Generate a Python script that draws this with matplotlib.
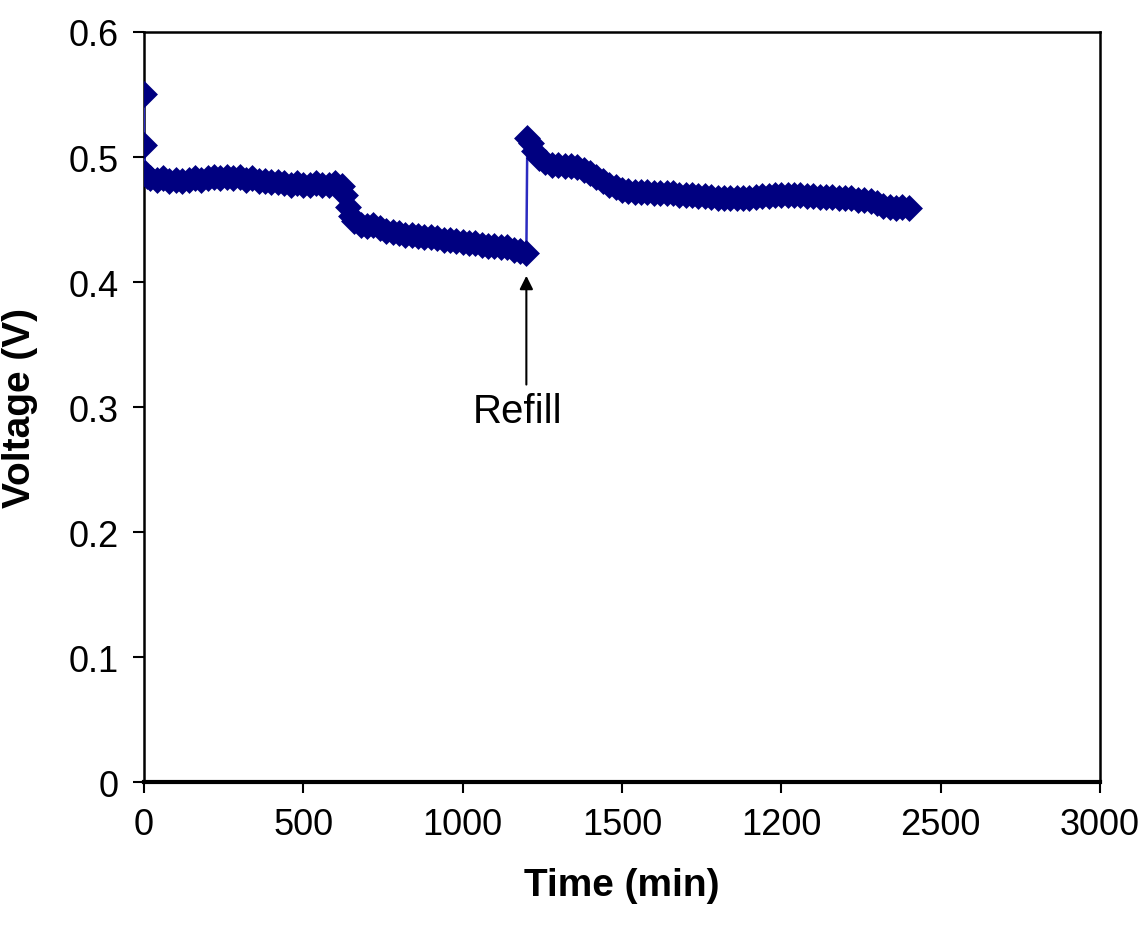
import matplotlib
matplotlib.use("Agg")
from matplotlib import pyplot as plt

# (min, V)
time_min = [0, 0, 3, 10, 20, 40, 60, 80, 100, 120, 140, 160, 180, 200, 220, 240, 260, 280, 300,
	320, 340, 360, 380, 400, 420, 440, 460, 480, 500, 520, 540, 560, 580, 600, 620, 630, 640, 650,
	660, 680, 700, 720, 740, 760, 780, 800, 820, 840, 860, 880, 900, 920, 940, 960, 980, 1000,
	1020, 1040, 1060, 1080, 1100, 1120, 1140, 1160, 1180, 1200,
	1203, 1215, 1225, 1240, 1260, 1280, 1300, 1320, 1340, 1360, 1380, 1400, 1420, 1440, 1460,
	1480, 1500, 1520, 1540, 1560, 1580, 1600, 1620, 1640, 1660, 1680, 1700, 1720, 1740, 1760,
	1780, 1800, 1820, 1840, 1860, 1880, 1900, 1920, 1940, 1960, 1980, 2000, 2020, 2040, 2060,
	2080, 2100, 2120, 2140, 2160, 2180, 2200, 2220, 2240, 2260, 2280, 2300, 2320, 2340, 2360,
	2380, 2400]
voltage = [0.550, 0.510, 0.487, 0.485, 0.483, 0.482, 0.483, 0.481, 0.482, 0.481, 0.482, 0.483,
	0.482, 0.483, 0.484, 0.483, 0.484, 0.483, 0.484, 0.482, 0.483, 0.481, 0.481, 0.480, 0.480,
	0.479, 0.478, 0.479, 0.478, 0.478, 0.479, 0.478, 0.478, 0.479, 0.477, 0.470, 0.460, 0.453,
	0.449, 0.446, 0.445, 0.446, 0.443, 0.441, 0.440, 0.439, 0.438, 0.438, 0.437, 0.436, 0.436,
	0.435, 0.434, 0.434, 0.433, 0.432, 0.431, 0.431, 0.430, 0.429, 0.429, 0.428, 0.428, 0.426,
	0.425, 0.423,
	0.515, 0.511, 0.505, 0.499, 0.496, 0.494, 0.494, 0.493, 0.493, 0.492, 0.490, 0.487, 0.484,
	0.481, 0.478, 0.476, 0.474, 0.473, 0.472, 0.472, 0.472, 0.471, 0.471, 0.471, 0.471, 0.470,
	0.470, 0.470, 0.469, 0.469, 0.468, 0.467, 0.467, 0.467, 0.467, 0.467, 0.467, 0.468, 0.469,
	0.469, 0.470, 0.470, 0.470, 0.470, 0.470, 0.469, 0.469, 0.468, 0.468, 0.468, 0.467, 0.467,
	0.467, 0.466, 0.466, 0.465, 0.463, 0.461, 0.460, 0.459, 0.460, 0.459]

x_ticks = [0, 500, 1000, 1500, 2000, 2500, 3000]
x_labels = ["0", "500", "1000", "1500", "1200", "2500", "3000"]
y_ticks = [0, 0.1, 0.2, 0.3, 0.4, 0.5, 0.6]
y_labels = ["0", "0.1", "0.2", "0.3", "0.4", "0.5", "0.6"]

plt.rcParams['font.family'] = ["Liberation Sans", "DejaVu Sans"]

fig = plt.figure(figsize=(11.47, 9.29), dpi=100)
ax = fig.add_axes([0.1255, 0.157, 0.8335, 0.8075])

ax.plot(time_min, voltage, color="#2b2bc0", lw=1.8, marker="D", markersize=11,
	markerfacecolor="#000080", markeredgecolor="#000080", markeredgewidth=2.5, zorder=3)

# refill marker: vertical arrow + label under it
ax.annotate("", xy=(1200, 0.405), xytext=(1200, 0.318),
	arrowprops=dict(arrowstyle="-|>", color="black", lw=1.5, mutation_scale=20,
	shrinkA=0, shrinkB=0))
ax.text(1172, 0.297, "Refill", ha="center", va="center", fontsize=29)

ax.set_xlim(0, 3000)
ax.set_ylim(0, 0.6)
ax.set_xticks(x_ticks)
ax.set_xticklabels(x_labels)
ax.set_yticks(y_ticks)
ax.set_yticklabels(y_labels)
ax.tick_params(direction="out", length=8, width=1.5, labelsize=26, pad=10)

for s in ax.spines.values():
	s.set_linewidth(1.8)
ax.spines["bottom"].set_linewidth(3)

ax.set_xlabel("Time (min)", fontsize=28, fontweight="bold", labelpad=18)
ax.set_ylabel("Voltage (V)", fontsize=28, fontweight="bold", labelpad=22)

fig.savefig("out.png", dpi=100)
